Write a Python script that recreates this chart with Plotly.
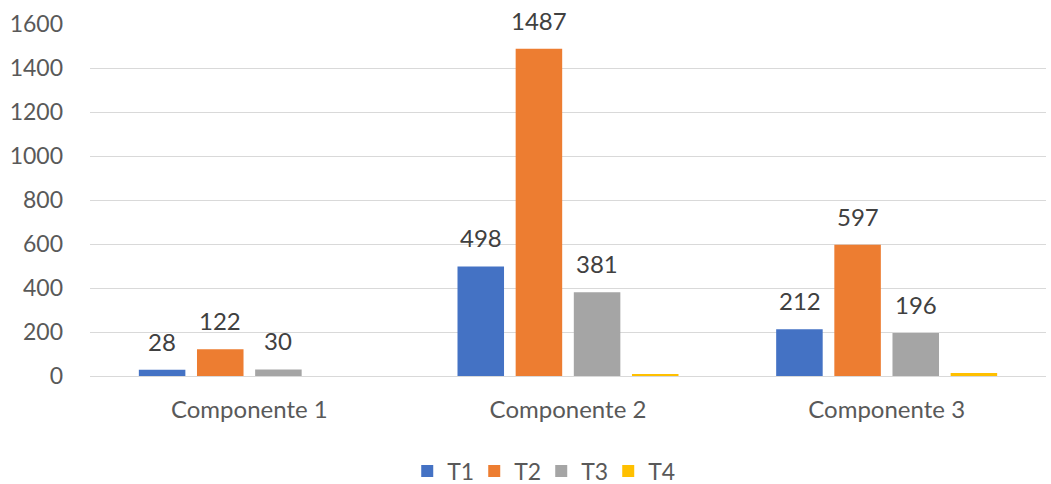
import plotly.graph_objects as go

categories = ["Componente 1", "Componente 2", "Componente 3"]
series_names = ["T1", "T2", "T3", "T4"]
t1 = [28, 498, 212]
t2 = [122, 1487, 597]
t3 = [30, 381, 196]
t4 = [0, 9, 14]
colors = ["#4472C4", "#ED7D31", "#A5A5A5", "#FFC000"]
y_ticks = [0, 200, 400, 600, 800, 1000, 1200, 1400, 1600]

FONT = "Lato, 'Open Sans', sans-serif"
TXT = "#595959"
fig = go.Figure()
all_series = [t1, t2, t3, t4]
for name, vals, col in zip(series_names, all_series, colors):
    fig.add_trace(go.Bar(x=categories, y=vals, name=name, marker_color=col,
                         marker_line_width=0))

# data labels (T1..T3) placed with the axes' scales, offset to sit over each bar of the group
BAR_STEP = 58  # pixel distance between bars within a group
labelled = all_series[:3]
for i, vals in enumerate(labelled):
    offset = (i - 1.5) * BAR_STEP
    for cat, v in zip(categories, vals):
        fig.add_annotation(x=cat, y=v, text=str(v), showarrow=False, xshift=offset,
                           yanchor="bottom", yshift=12,
                           font=dict(size=24, color="#404040", family=FONT))

fig.update_layout(
    width=1051, height=484,
    margin=dict(l=90, r=5, t=24, b=108, autoexpand=False),
    plot_bgcolor="white", paper_bgcolor="white",
    barmode="group", bargap=0.27, bargroupgap=0.2,
    font=dict(family=FONT, color=TXT, size=23),
    showlegend=True,
    legend=dict(orientation="h", x=0.472, xanchor="center", y=-0.27, yanchor="middle",
                font=dict(size=23, color=TXT), entrywidth=22, entrywidthmode="pixels"),
)
fig.update_yaxes(range=[0, 1600], tickvals=y_ticks, showgrid=True, gridcolor="#D9D9D9",
                 gridwidth=1, zeroline=False, showline=False, ticks="",
                 tickfont=dict(size=23, color=TXT), ticklabelstandoff=26)
fig.update_xaxes(showline=True, linecolor="#D9D9D9", linewidth=1, ticks="",
                 tickfont=dict(size=24, color=TXT), ticklabelstandoff=12)

fig.write_html("out.html")
